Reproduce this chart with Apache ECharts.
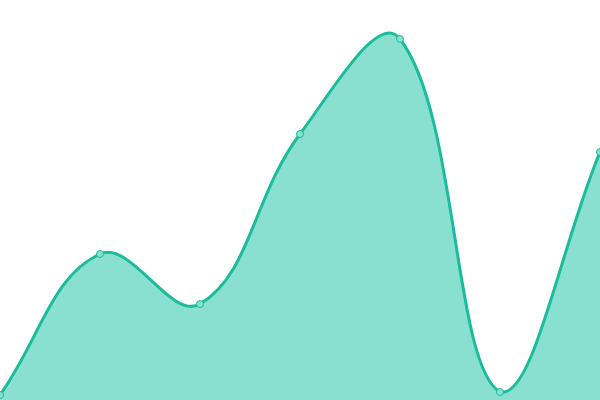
<!DOCTYPE html>
<html>
<head>
<meta charset="utf-8">
<script src="https://cdn.jsdelivr.net/npm/echarts@6/dist/echarts.min.js"></script>
<style>
  html, body { margin: 0; padding: 0; background: #fff; }
  #main { width: 600px; height: 400px; }
</style>
</head>
<body>
<div id="main"></div>
<script>
// data
const categories = ['1', '2', '3', '4', '5', '6', '7']
const values = [5, 146, 96, 266, 361, 8, 248]

const lineColor = '#1abc9c'
const fillColor = '#8ae0d0'
const tension = 0.4

const chart = echarts.init(document.getElementById('main'))

// cardinal-ish spline through the pixel points, control points kept inside the grid
function buildPath(pts, rect) {
  const clampX = x => Math.max(rect.x, Math.min(rect.x + rect.width, x))
  const clampY = y => Math.max(rect.y, Math.min(rect.y + rect.height, y))
  const cps = pts.map((cur, i) => {
    const prev = pts[i - 1] || cur
    const next = pts[i + 1] || cur
    const d01 = Math.hypot(cur[0] - prev[0], cur[1] - prev[1])
    const d12 = Math.hypot(next[0] - cur[0], next[1] - cur[1])
    let s01 = d01 / (d01 + d12)
    let s12 = d12 / (d01 + d12)
    if (isNaN(s01)) s01 = 0
    if (isNaN(s12)) s12 = 0
    const fa = tension * s01
    const fb = tension * s12
    return {
      before: [clampX(cur[0] - fa * (next[0] - prev[0])), clampY(cur[1] - fa * (next[1] - prev[1]))],
      after: [clampX(cur[0] + fb * (next[0] - prev[0])), clampY(cur[1] + fb * (next[1] - prev[1]))]
    }
  })
  let d = 'M' + pts[0][0] + ' ' + pts[0][1]
  for (let i = 1; i < pts.length; i++) {
    const a = cps[i - 1].after
    const b = cps[i].before
    d += ' C' + a[0] + ' ' + a[1] + ' ' + b[0] + ' ' + b[1] + ' ' + pts[i][0] + ' ' + pts[i][1]
  }
  return d
}

const option = {
  animation: false,
  grid: {
    left: 0,
    right: 0,
    top: 0,
    bottom: 0
  },
  xAxis: {
    type: 'category',
    boundaryGap: false,
    data: categories,
    show: false
  },
  yAxis: {
    type: 'value',
    min: 0,
    max: 400,
    show: false
  },
  series: [{
    type: 'custom',
    data: values,
    renderItem: function (params, api) {
      if (params.dataIndex !== 0) return null
      const pts = values.map((v, i) => api.coord([i, v]))
      const base0 = api.coord([0, 0])
      const baseN = api.coord([values.length - 1, 0])
      const rect = params.coordSys
      const curve = buildPath(pts, rect)
      const area = curve + ' L' + baseN[0] + ' ' + baseN[1] + ' L' + base0[0] + ' ' + base0[1] + ' Z'
      return {
        type: 'group',
        children: [{
          type: 'path',
          shape: { pathData: area },
          style: { fill: fillColor }
        }, {
          type: 'path',
          shape: { pathData: curve },
          style: { fill: null, stroke: lineColor, lineWidth: 3 }
        }]
      }
    }
  }, {
    type: 'line',
    data: values,
    symbol: 'circle',
    symbolSize: 7,
    lineStyle: { opacity: 0 },
    itemStyle: {
      color: fillColor,
      borderColor: lineColor,
      borderWidth: 1
    },
    z: 3
  }]
}

chart.setOption(option)
</script>
</body>
</html>
